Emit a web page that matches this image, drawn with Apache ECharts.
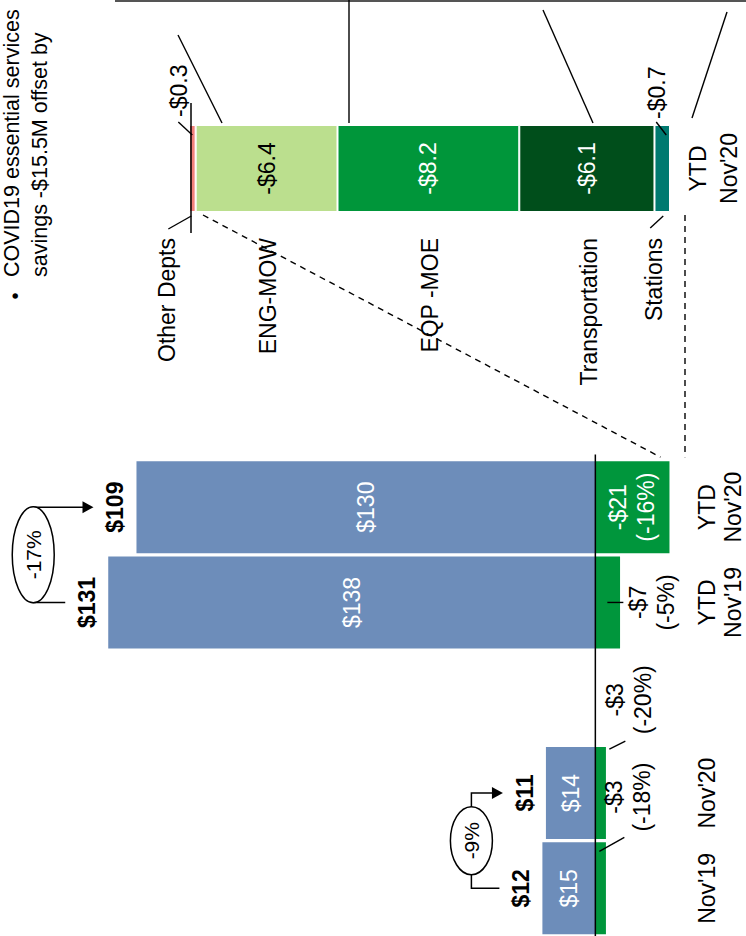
<!DOCTYPE html>
<html>
<head>
<meta charset="utf-8">
<title>Overtime savings</title>
<script src="https://cdn.jsdelivr.net/npm/echarts@6/dist/echarts.min.js"></script>
<style>
  html, body { margin: 0; padding: 0; background: #fff; }
  #chart { width: 746px; height: 936px; }
</style>
</head>
<body>
<div id="chart"></div>
<script>
// ---- data ----
const categories = ["Nov'19", "Nov'20", "", "YTD\nNov'19", "YTD\nNov'20"];
const baseValues = [15, 14, null, 138, 130];
const savingValues = [-3, -3, null, -7, -21];
const savingPctLabels = ['(-18%)', '(-20%)', null, '(-5%)', '(-16%)'];
const changeLabels = ['-9%', '-17%'];

const deptCategory = ["YTD\nNov'20"];
const deptNames = ['Stations', 'Transportation', 'EQP -MOE', 'ENG-MOW', 'Other Depts'];
const deptValues = [-0.7, -6.1, -8.2, -6.4, -0.3];

const noteLines = ['COVID19 essential services', 'savings -$15.5M offset by'];

// ---- style ----
const FONT = "'Liberation Sans', Arial, sans-serif";
const FS = 23;
const BLUE = '#6d8dba';
const GREEN = '#00963c';
const DEPT_COLORS = ['#007a70', '#004e1b', '#00963a', '#bbdf8e', '#f3817b'];
const DEPT_TEXT = ['#fff', '#fff', '#fff', '#000', '#000'];

const money = v => (v < 0 ? '-' : '') + '$' + Math.abs(v);
const deptTotal = Math.round(deptValues.reduce((a, b) => a + b, 0) * 10) / 10;

const chart = echarts.init(document.getElementById('chart'), null, { renderer: 'svg' });

const option = {
  animation: false,
  backgroundColor: '#fff',
  textStyle: { fontFamily: FONT },
  grid: [
    { left: 80, right: 70, top: 459.5, height: 476.5 },
    { left: 189, right: 76, top: 103, height: 131 }
  ],
  xAxis: [
    { gridIndex: 0, type: 'value', inverse: true, min: -22, max: 146, show: false },
    { gridIndex: 1, type: 'value', min: deptTotal, max: 0, show: false }
  ],
  yAxis: [
    {
      gridIndex: 0, type: 'category', data: categories, position: 'right',
      axisLine: { show: false }, axisTick: { show: false },
      axisLabel: { rotate: 90, margin: 21, fontSize: FS, lineHeight: 26, color: '#000', fontFamily: FONT }
    },
    {
      gridIndex: 1, type: 'category', data: deptCategory, position: 'right',
      axisLine: { show: false }, axisTick: { show: false },
      axisLabel: { rotate: 90, margin: 12, fontSize: FS, lineHeight: 31, color: '#000', fontFamily: FONT }
    }
  ],
  series: [
    {
      type: 'bar', name: 'Base', xAxisIndex: 0, yAxisIndex: 0, stack: 'm', barWidth: 92,
      data: baseValues, itemStyle: { color: BLUE },
      label: {
        show: true, position: 'inside', rotate: 90, color: '#fff', fontSize: FS, fontFamily: FONT,
        formatter: p => money(p.value)
      }
    },
    {
      type: 'bar', name: 'Savings', xAxisIndex: 0, yAxisIndex: 0, stack: 'm', barWidth: 92,
      itemStyle: { color: GREEN },
      data: savingValues.map((v, i) => i === 4 ? {
        value: v,
        label: {
          show: true, position: 'inside', rotate: 90, color: '#fff', fontSize: FS, lineHeight: 28,
          fontFamily: FONT, formatter: money(v) + '\n' + savingPctLabels[i]
        }
      } : v)
    }
  ].concat(deptValues.map((v, i) => ({
    type: 'bar', name: deptNames[i], xAxisIndex: 1, yAxisIndex: 1, stack: 'd', barWidth: 87,
    data: [v],
    itemStyle: { color: DEPT_COLORS[i], borderColor: '#fff', borderWidth: 1 },
    label: {
      show: Math.abs(v) >= 1, position: 'inside', rotate: 90, color: DEPT_TEXT[i],
      fontSize: FS, fontFamily: FONT, formatter: p => money(p.value)
    }
  })))
};

chart.setOption(option);

// ---- annotations ----
const px = (g, x, y) => chart.convertToPixel({ gridIndex: g }, [x, y]);
const G = [];
const line = (x1, y1, x2, y2, extra) => G.push(Object.assign({
  type: 'line', z: 100, shape: { x1, y1, x2, y2 },
  style: { stroke: '#000', lineWidth: 1.4 }
}, extra || {}));
const vtext = (x, y, text, opts) => G.push({
  type: 'text', z: 101, x, y, rotation: Math.PI / 2,
  style: Object.assign({
    text, fill: '#000', fontSize: FS, fontFamily: FONT,
    align: 'center', verticalAlign: 'middle', lineHeight: 28
  }, opts || {})
});

const zeroX = px(0, 0, 0)[0];
const rowY = i => px(0, 0, i)[1];
const topY = chart.getModel().getComponent('grid', 0).coordinateSystem.getRect().y;

// baseline at zero
line(zeroX, topY - 5, zeroX, 936, { style: { stroke: '#000', lineWidth: 1.5 } });

// totals above the blue bars
const totalX = {};
[0, 1, 3, 4].forEach(i => {
  const endX = px(0, baseValues[i], i)[0];
  totalX[i] = endX - 21;
  vtext(totalX[i], rowY(i), money(baseValues[i] + savingValues[i]), { fontWeight: 'bold' });
});

// savings labels outside the bars
const ytd19End = px(0, savingValues[3], 3)[0];
vtext(ytd19End + 32, rowY(3), money(savingValues[3]) + '\n' + savingPctLabels[3]);
line(zeroX + 12, rowY(3), zeroX + 28, rowY(3));

vtext(zeroX + 33, rowY(1) + 4, money(savingValues[0]) + '\n' + savingPctLabels[0]);
line(zeroX + 29, rowY(0) - 51, zeroX + 4, rowY(0) - 37);
vtext(zeroX + 34, rowY(2) + 2, money(savingValues[1]) + '\n' + savingPctLabels[1]);
line(zeroX + 30, rowY(1) - 52, zeroX + 14, rowY(1) - 44);

// change brackets with ellipse badges
[[0, 1, 34, 50], [3, 4, 48, 54]].forEach(([lo, hi, ry, back], k) => {
  const xb = totalX[lo] - back;
  const yBot = rowY(lo), yTop = rowY(hi);
  const tip = totalX[hi] - 22;
  G.push({
    type: 'polyline', z: 100,
    shape: { points: [[totalX[lo] - 22, yBot], [xb, yBot], [xb, yTop], [tip - 9, yTop]] },
    style: { stroke: '#000', lineWidth: 1.5, fill: null }
  });
  G.push({
    type: 'polygon', z: 100,
    shape: { points: [[tip, yTop], [tip - 11, yTop - 6], [tip - 11, yTop + 6]] },
    style: { fill: '#000' }
  });
  G.push({
    type: 'ellipse', z: 100,
    shape: { cx: xb, cy: (yBot + yTop) / 2, rx: 21, ry },
    style: { fill: '#fff', stroke: '#000', lineWidth: 1.5 }
  });
  vtext(xb, (yBot + yTop) / 2, changeLabels[k], { fontSize: 21 });
});

// department breakdown: edges, names and small values
const barHalf = 87 / 2;
const deptMid = px(1, 0, 0)[1];
const deptTop = deptMid - barHalf, deptBot = deptMid + barHalf;
const segCenter = [];
let acc = 0;
deptValues.forEach((v, i) => {
  const a = px(1, acc, 0)[0];
  acc += v;
  const b = px(1, acc, 0)[0];
  segCenter.push((a + b) / 2);
});
const leftEnd = px(1, deptTotal, 0)[0];
const rightEnd = px(1, 0, 0)[0];

line(leftEnd + 2, deptTop - 22, leftEnd + 2, deptBot + 21, { style: { stroke: '#000', lineWidth: 1.5 } });

const nameShift = [-8, 2, 2, 1, -25];
deptNames.forEach((n, i) => {
  vtext(segCenter[i] + nameShift[i], deptBot + 26, n, { align: 'right' });
});
line(segCenter[4] - 24, deptBot + 17, segCenter[4] - 1, deptBot + 4);
line(segCenter[0] - 12, deptBot + 16, segCenter[0] + 1, deptBot + 4);

vtext(segCenter[4] - 13, deptTop - 8, money(deptValues[4]), { align: 'left' });
line(segCenter[4] - 14, deptTop - 3, segCenter[4], deptTop + 10);
vtext(segCenter[0] - 5, deptTop - 6, money(deptValues[0]), { align: 'left' });
line(segCenter[0] - 6, deptTop - 3, segCenter[0] + 4, deptTop + 10);

// dashed connectors to the YTD savings bar
const ytd20End = px(0, savingValues[4], 4)[0];
line(leftEnd + 14, deptBot + 3, ytd20End - 9, rowY(4) - 50, { style: { stroke: '#000', lineWidth: 1.4, lineDash: [6, 5] } });
line(rightEnd + 15, deptBot + 3, rightEnd + 15, rowY(4) - 50, { style: { stroke: '#000', lineWidth: 1.4, lineDash: [6, 5] } });

// callout box edge and pointers
line(115, 1, 746, 1, { style: { stroke: '#555', lineWidth: 2 } });
line(178, 35, 222, 123);
line(349, 0, 349, 123);
line(543, 10, 593, 123);
line(727, 12, 692, 118);

// note text
vtext(15, 296, '\u2022', { fontSize: 20 });
vtext(12, 277, noteLines[0], { align: 'left', fontSize: 21.5 });
vtext(40, 277, noteLines[1], { align: 'left', fontSize: 21.5 });

chart.setOption({ graphic: { elements: G } });
</script>
</body>
</html>
